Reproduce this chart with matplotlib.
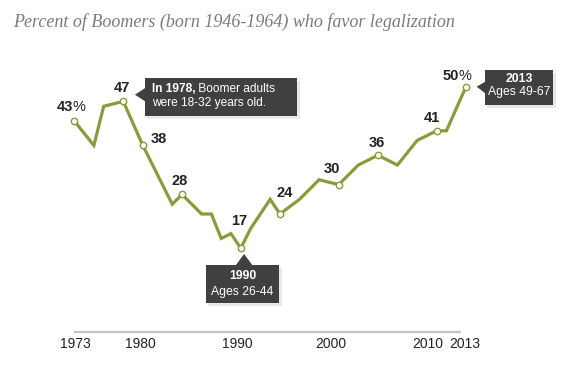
import matplotlib
matplotlib.use("Agg")
import matplotlib.pyplot as plt
import matplotlib.transforms as mtransforms
from matplotlib.patches import Polygon
from matplotlib.text import Annotation

# ---- data ----
years = [1973, 1975, 1976, 1978, 1980, 1983, 1984, 1986, 1987, 1988, 1989,
         1990, 1991, 1993, 1994, 1996, 1998, 2000, 2002, 2004, 2006, 2008,
         2010, 2011, 2013]
values = [43, 38, 46, 47, 38, 26, 28, 24, 24, 19, 20,
          17, 21, 27, 24, 27, 31, 30, 34, 36, 34, 39,
          41, 41, 50]
label_years = [1973, 1978, 1980, 1984, 1990, 1994, 2000, 2004, 2010, 2013]
label_texts = ["43", "47", "38", "28", "17", "24", "30", "36", "41", "50"]
label_pct = [True, False, False, False, False, False, False, False, False, True]
# label offsets in pixels (dx, dy screen-down) relative to the marker
label_offsets = [(-4, -14), (-1, -13), (16, -6), (-2, -13), (-2, -27),
                 (5, -21), (-7, -16), (-1, -12), (-5, -13), (-10, -11)]
tick_labels = ["1973", "1980", "1990", "2000", "2010", "2013"]
tick_pos = [1973.1, 1979.7, 1989.6, 1999.2, 2009.1, 2012.9]
title = "Percent of Boomers (born 1946-1964) who favor legalization"

GREEN = "#8a9a3c"
BOX = "#404040"
W, H = 575, 376

fig = plt.figure(figsize=(W / 100, H / 100), dpi=100)
fig.patch.set_facecolor("white")
# axes mapping: 1973 -> x=74.3px, 2013 -> 466px ; 0 -> y=331.5px, 50 -> y=86.7px (from top)
x0, x1 = 74.3, 466.0
ytop, ybot = 86.7, 331.5
ax = fig.add_axes([x0 / W, (H - ybot) / H, (x1 - x0) / W, (ybot - ytop) / H])
ax.set_xlim(1973, 2013)
ax.set_ylim(0, 50)
ax.axis("off")

SANS = ["Liberation Sans", "DejaVu Sans"]

# baseline
ax.plot([1973, 2012.5], [0, 0], color="#c4c4c4", lw=1.6, clip_on=False,
        solid_capstyle="butt")

# tick labels
for p, t in zip(tick_pos, tick_labels):
    ax.annotate(t, xy=(p, 0), xytext=(0, -13 * 0.72), textcoords="offset points",
                ha="center", va="center", fontsize=10, color="#222222",
                family=SANS, annotation_clip=False)

# the line
ax.plot(years, values, color=GREEN, lw=2.3, clip_on=False, zorder=3,
        solid_joinstyle="miter")
lv = [values[years.index(y)] for y in label_years]
ax.plot(label_years, lv, ls="none", marker="o", ms=4.6, mfc="white",
        mec=GREEN, mew=1.0, clip_on=False, zorder=4)

# data labels
for y, v, t, pct, (dx, dy) in zip(label_years, lv, label_texts, label_pct, label_offsets):
    if pct:
        a = ax.annotate(t, xy=(y, v), xytext=(dx * 0.72 - 4, -dy * 0.72),
                        textcoords="offset points", ha="center", va="center",
                        fontsize=10.5, fontweight="bold", color="#222222",
                        family=SANS, annotation_clip=False)
        ax.annotate("%", xy=(1, 0), xycoords=a, xytext=(-0.3, 0),
                    textcoords="offset points", ha="left", va="bottom",
                    fontsize=10.5, color="#222222", family=SANS)
    else:
        ax.annotate(t, xy=(y, v), xytext=(dx * 0.72, -dy * 0.72),
                    textcoords="offset points", ha="center", va="center",
                    fontsize=10.5, fontweight="bold", color="#222222",
                    family=SANS, annotation_clip=False)


def px_trans(x, y):
    # pixel offsets (y downward) relative to a data point
    return mtransforms.Affine2D().scale(1, -1) + mtransforms.ScaledTranslation(x, y, ax.transData)


def callout(x, y, box, tip, base):
    tr = px_trans(x, y)
    bx0, by0, bx1, by1 = box
    sh = Polygon([(bx0 + 2, by0 + 3), (bx1 + 3, by0 + 3), (bx1 + 3, by1 + 3), (bx0 + 2, by1 + 3)],
                 closed=True, facecolor="#ece8e4", edgecolor="none", transform=tr,
                 clip_on=False, zorder=5)
    fig.add_artist(sh)
    pts = [(bx0, by0), (bx1, by0), (bx1, by1), (bx0, by1)]
    rect = Polygon(pts, closed=True, facecolor=BOX, edgecolor="none", transform=tr,
                   clip_on=False, zorder=6)
    fig.add_artist(rect)
    tri = Polygon([tip, base[0], base[1]], closed=True, facecolor=BOX, edgecolor="none",
                  transform=tr, clip_on=False, zorder=6)
    fig.add_artist(tri)
    return tr


# 1978 callout
tr = callout(1978, 47, (21.7, -23.4, 173.4, 15.0), (11.7, -6.7), ((22.0, -13.4), (22.0, 0.0)))
t1 = fig.text(28.4, -12.4, "In 1978,", transform=tr, ha="left", va="center",
              fontsize=8.6, fontweight="bold", color="white", family=SANS, zorder=7)
a2 = Annotation(" Boomer adults", xy=(1, 0), xycoords=t1, ha="left", va="bottom",
                fontsize=8.6, color="white", family=SANS, zorder=7)
fig.add_artist(a2)
fig.text(28.4, 1.6, "were 18-32 years old.", transform=tr, ha="left", va="center",
         fontsize=8.6, color="white", family=SANS, zorder=7)

# 1990 callout
tr = callout(1990, 17, (-35.0, 16.7, 38.3, 55.0), (3.3, 5.7), ((-5.0, 17.0), (11.7, 17.0)))
fig.text(1.7, 27.4, "1990", transform=tr, ha="center", va="center",
         fontsize=8.8, fontweight="bold", color="white", family=SANS, zorder=7)
fig.text(1.7, 43.4, "Ages 26-44", transform=tr, ha="center", va="center",
         fontsize=8.8, color="white", family=SANS, zorder=7)

# 2013 callout
tr = callout(2013, 50, (19.0, -16.7, 87.3, 18.3), (10.7, 0.0), ((19.3, -5.0), (19.3, 6.6)))
fig.text(53.2, -7.7, "2013", transform=tr, ha="center", va="center",
         fontsize=8.8, fontweight="bold", color="white", family=SANS, zorder=7)
fig.text(53.2, 5.6, "Ages 49-67", transform=tr, ha="center", va="center",
         fontsize=8.8, color="white", family=SANS, zorder=7)

# title
fig.text(12.7 / W, 1 - 22 / H, title, ha="left", va="center", fontsize=13.0,
         style="italic", color="#7a7a7a", family=["Liberation Serif", "DejaVu Serif"])

fig.savefig("out.png", dpi=100, facecolor="white")
